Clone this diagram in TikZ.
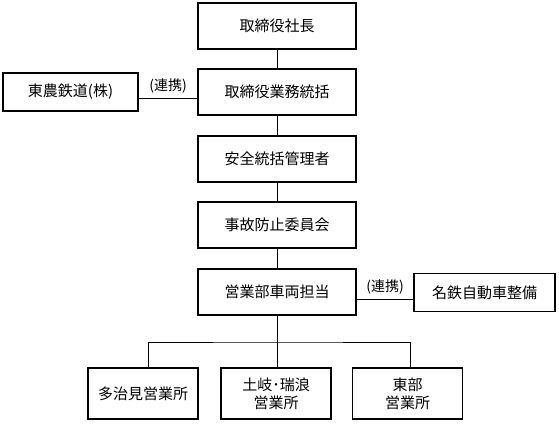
\documentclass[tikz,border=0pt]{standalone}
\usepackage{fontspec}
\setmainfont{Noto Sans CJK JP}
\usetikzlibrary{positioning}

\begin{document}
\begin{tikzpicture}[
  x=1pt,y=-1pt, font=\fontsize{15}{18}\selectfont, color=black,
  unit/.style   ={draw=black, line width=1.8pt, inner sep=0pt, align=center,
                  minimum width=158pt, minimum height=46pt},
  partner/.style={unit, minimum height=38pt},
  office/.style ={unit, minimum width=110pt, minimum height=51pt},
  link/.style   ={draw=black, line width=1pt},
  tag/.style    ={font=\fontsize{14}{16}\selectfont, inner sep=1pt},
]

% ----- frame -------------------------------------------------------------
\useasboundingbox (0,0) rectangle (559,423);

% ----- main column -------------------------------------------------------
\node[unit] (shacho)  at (277, 26) {取締役社長};
\node[unit] (tokatsu) at (277, 92) {取締役業務統括};
\node[unit] (anzen)   at (277,159) {安全統括管理者};
\node[unit] (jiko)    at (277,225) {事故防止委員会};
\node[unit] (eigyo)   at (277,292) {営業部車両担当};

\draw[link] (shacho)  -- (tokatsu);
\draw[link] (tokatsu) -- (anzen);
\draw[link] (anzen)   -- (jiko);
\draw[link] (jiko)    -- (eigyo);

% ----- partners ----------------------------------------------------------
\node[partner,minimum width=135pt] (tono)   at (70.5,92) {東農鉄道(株)};
\node[partner,minimum width=141pt] (meitetsu) at (484.5,292.5) {名鉄自動車整備};

\draw[link] ([yshift=-6pt]tono.east) -- ([yshift=-6pt]tono.east -| tokatsu.west)
      node[tag,midway,above=3pt] {(連携)};
\draw[link] ([yshift=-7pt]eigyo.east) -- ([yshift=-7pt]eigyo.east -| meitetsu.west)
      node[tag,midway,above=3pt] {(連携)};

% ----- offices -----------------------------------------------------------
\node[office] (tajimi) at (143,393.5)   {多治見営業所};
\node[office] (toki)   at (276,393.5)   {土岐･瑞浪\\営業所};
\node[office] (tobu)   at (407.5,393.5) {東部\\営業所};

\coordinate (bus) at (277,342);
\draw[link] (eigyo.south) -- (bus);
\draw[link] ([xshift=5pt]tajimi.north) |- (bus) -| ([xshift=3pt]tobu.north);
\draw[link] (bus) -- (toki.north -| bus);

\end{tikzpicture}
\end{document}
